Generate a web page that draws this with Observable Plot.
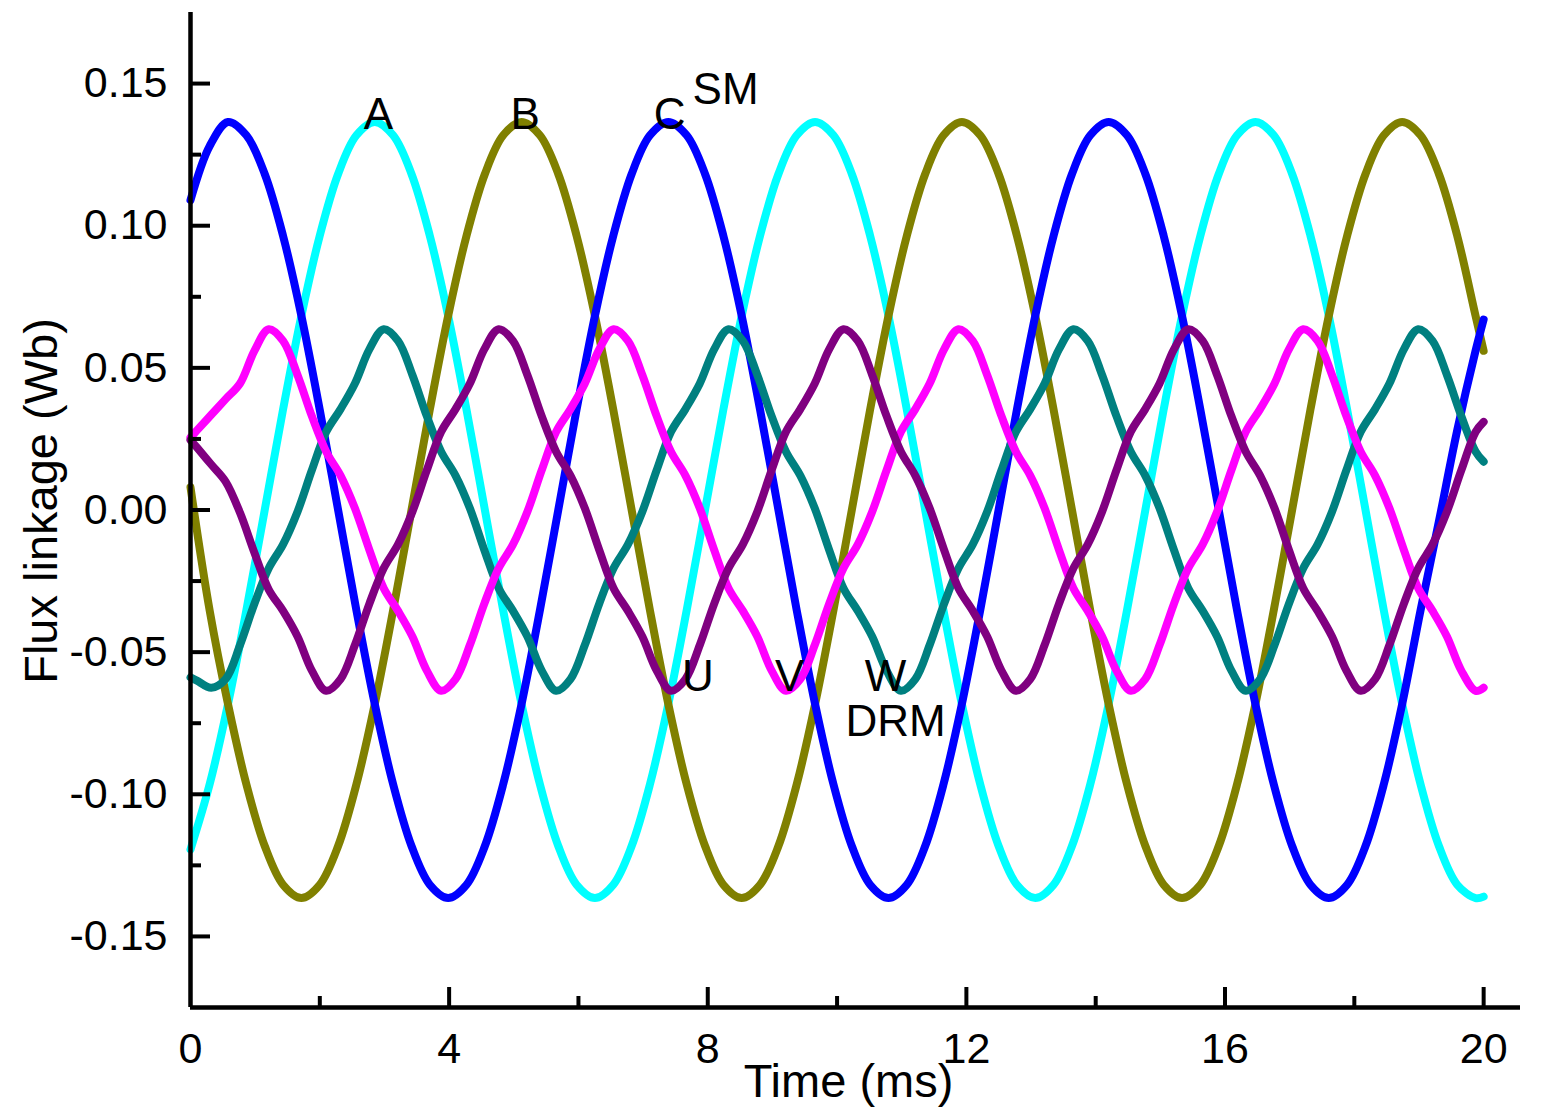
<!DOCTYPE html>
<html>
<head>
<meta charset="utf-8">
<script src="https://cdn.jsdelivr.net/npm/d3@7"></script>
<script src="https://cdn.jsdelivr.net/npm/@observablehq/plot@0.6"></script>
<style>
  html, body { margin: 0; padding: 0; background: #fff; }
  #chart svg { display: block; }
</style>
</head>
<body>
<div id="chart"></div>
<script>
// ---- time grids (ms) ----
const smTime = [0, 0.296, 0.580, 0.864, 1.148, 1.431, 1.715, 1.999, 2.283, 2.566, 2.850,
  3.134, 3.418, 3.701, 3.985, 4.269, 4.553, 4.836, 5.120, 5.404, 5.688,
  5.971, 6.255, 6.539, 6.823, 7.106, 7.390, 7.674, 7.958, 8.241, 8.525,
  8.809, 9.093, 9.376, 9.660, 9.944, 10.228, 10.511, 10.795, 11.079, 11.363,
  11.646, 11.930, 12.214, 12.498, 12.781, 13.065, 13.349, 13.633, 13.916, 14.200,
  14.484, 14.768, 15.051, 15.335, 15.619, 15.903, 16.186, 16.470, 16.754, 17.038,
  17.321, 17.605, 17.889, 18.173, 18.456, 18.740, 19.024, 19.308, 19.591, 19.875, 20];

const drmTime = [0, 0.099, 0.321, 0.543, 0.766, 0.988, 1.210, 1.432, 1.655, 1.877, 2.099,
  2.321, 2.543, 2.766, 2.988, 3.210, 3.432, 3.655, 3.877, 4.099,
  4.321, 4.543, 4.766, 4.988, 5.210, 5.432, 5.655, 5.877, 6.099,
  6.321, 6.543, 6.766, 6.988, 7.210, 7.432, 7.655, 7.877, 8.099,
  8.321, 8.543, 8.766, 8.988, 9.210, 9.432, 9.655, 9.877, 10.099,
  10.321, 10.543, 10.766, 10.988, 11.210, 11.432, 11.655, 11.877, 12.099,
  12.321, 12.543, 12.766, 12.988, 13.210, 13.432, 13.655, 13.877, 14.099,
  14.321, 14.543, 14.766, 14.988, 15.210, 15.432, 15.655, 15.877, 16.099,
  16.321, 16.543, 16.766, 16.988, 17.210, 17.432, 17.655, 17.877, 18.099,
  18.321, 18.543, 18.766, 18.988, 19.210, 19.432, 19.655, 19.877, 20];

// ---- SM flux linkage (Wb) ----
const fluxA = [-0.1194,
  -0.0965, -0.0683, -0.0353, 0, 0.0353, 0.0683, 0.0965, 0.1182, 0.1318,
  0.1365, 0.1318, 0.1182, 0.0965, 0.0683, 0.0353, 0, -0.0353, -0.0683, -0.0965, -0.1182, -0.1318,
  -0.1365, -0.1318, -0.1182, -0.0965, -0.0683, -0.0353, 0, 0.0353, 0.0683, 0.0965, 0.1182, 0.1318,
  0.1365, 0.1318, 0.1182, 0.0965, 0.0683, 0.0353, 0, -0.0353, -0.0683, -0.0965, -0.1182, -0.1318,
  -0.1365, -0.1318, -0.1182, -0.0965, -0.0683, -0.0353, 0, 0.0353, 0.0683, 0.0965, 0.1182, 0.1318,
  0.1365, 0.1318, 0.1182, 0.0965, 0.0683, 0.0353, 0, -0.0353, -0.0683, -0.0965, -0.1182, -0.1318,
  -0.1365, -0.1360];

const fluxB = [0.008,
  -0.0353, -0.0683, -0.0965, -0.1182, -0.1318, -0.1365, -0.1318, -0.1182, -0.0965,
  -0.0683, -0.0353, 0, 0.0353, 0.0683, 0.0965, 0.1182, 0.1318,
  0.1365, 0.1318, 0.1182, 0.0965, 0.0683, 0.0353, 0, -0.0353, -0.0683, -0.0965, -0.1182, -0.1318,
  -0.1365, -0.1318, -0.1182, -0.0965, -0.0683, -0.0353, 0, 0.0353, 0.0683, 0.0965, 0.1182, 0.1318,
  0.1365, 0.1318, 0.1182, 0.0965, 0.0683, 0.0353, 0, -0.0353, -0.0683, -0.0965, -0.1182, -0.1318,
  -0.1365, -0.1318, -0.1182, -0.0965, -0.0683, -0.0353, 0, 0.0353, 0.0683, 0.0965, 0.1182, 0.1318,
  0.1365, 0.1318, 0.1182, 0.0965, 0.0683,
  0.056];

const fluxC = [0.109, 0.128,
  0.1365, 0.1318, 0.1182, 0.0965, 0.0683, 0.0353, 0, -0.0353, -0.0683, -0.0965, -0.1182, -0.1318,
  -0.1365, -0.1318, -0.1182, -0.0965, -0.0683, -0.0353, 0, 0.0353, 0.0683, 0.0965, 0.1182, 0.1318,
  0.1365, 0.1318, 0.1182, 0.0965, 0.0683, 0.0353, 0, -0.0353, -0.0683, -0.0965, -0.1182, -0.1318,
  -0.1365, -0.1318, -0.1182, -0.0965, -0.0683, -0.0353, 0, 0.0353, 0.0683, 0.0965, 0.1182, 0.1318,
  0.1365, 0.1318, 0.1182, 0.0965, 0.0683, 0.0353, 0, -0.0353, -0.0683, -0.0965, -0.1182, -0.1318,
  -0.1365, -0.1318, -0.1182, -0.0965,
  -0.0683, -0.0353, -0.004, 0.028, 0.056,
  0.067];

// ---- DRM flux linkage (Wb) ----
const fluxU = [0.0246,
  0.022, 0.016, 0.010, -0.001, -0.015, -0.028, -0.0355, -0.0445, -0.0565, -0.0636,
  -0.0595, -0.0475, -0.0330, -0.0205, -0.0121, -0.0006, 0.0140, 0.0275, 0.0355, 0.0445, 0.0565,
  0.0636, 0.0595, 0.0475, 0.0330, 0.0205, 0.0121, 0.0006, -0.0140, -0.0275, -0.0355, -0.0445, -0.0565,
  -0.0636, -0.0595, -0.0475, -0.0330, -0.0205, -0.0121, -0.0006, 0.0140, 0.0275, 0.0355, 0.0445, 0.0565,
  0.0636, 0.0595, 0.0475, 0.0330, 0.0205, 0.0121, 0.0006, -0.0140, -0.0275, -0.0355, -0.0445, -0.0565,
  -0.0636, -0.0595, -0.0475, -0.0330, -0.0205, -0.0121, -0.0006, 0.0140, 0.0275, 0.0355, 0.0445, 0.0565,
  0.0636, 0.0595, 0.0475, 0.0330, 0.0205, 0.0121, 0.0006, -0.0140, -0.0275, -0.0355, -0.0445, -0.0565,
  -0.0636, -0.0595, -0.0475, -0.0330, -0.0205, -0.0121, -0.0006, 0.0140, 0.0275,
  0.031];

const fluxV = [0.0255,
  0.028, 0.0335, 0.039, 0.0445, 0.0560,
  0.0636, 0.0595, 0.0475, 0.0330, 0.0205, 0.0121, 0.0006, -0.0140, -0.0275, -0.0355, -0.0445, -0.0565,
  -0.0636, -0.0595, -0.0475, -0.0330, -0.0205, -0.0121, -0.0006, 0.0140, 0.0275, 0.0355, 0.0445, 0.0565,
  0.0636, 0.0595, 0.0475, 0.0330, 0.0205, 0.0121, 0.0006, -0.0140, -0.0275, -0.0355, -0.0445, -0.0565,
  -0.0636, -0.0595, -0.0475, -0.0330, -0.0205, -0.0121, -0.0006, 0.0140, 0.0275, 0.0355, 0.0445, 0.0565,
  0.0636, 0.0595, 0.0475, 0.0330, 0.0205, 0.0121, 0.0006, -0.0140, -0.0275, -0.0355, -0.0445, -0.0565,
  -0.0636, -0.0595, -0.0475, -0.0330, -0.0205, -0.0121, -0.0006, 0.0140, 0.0275, 0.0355, 0.0445, 0.0565,
  0.0636, 0.0595, 0.0475, 0.0330, 0.0205, 0.0121, 0.0006, -0.0140, -0.0275, -0.0355, -0.0445, -0.0565,
  -0.0636,
  -0.0625];

const fluxW = [-0.0589,
  -0.0600, -0.0625, -0.0595, -0.0475, -0.0330, -0.0205, -0.0121, -0.0006, 0.0140, 0.0275, 0.0355, 0.0445, 0.0565,
  0.0636, 0.0595, 0.0475, 0.0330, 0.0205, 0.0121, 0.0006, -0.0140, -0.0275, -0.0355, -0.0445, -0.0565,
  -0.0636, -0.0595, -0.0475, -0.0330, -0.0205, -0.0121, -0.0006, 0.0140, 0.0275, 0.0355, 0.0445, 0.0565,
  0.0636, 0.0595, 0.0475, 0.0330, 0.0205, 0.0121, 0.0006, -0.0140, -0.0275, -0.0355, -0.0445, -0.0565,
  -0.0636, -0.0595, -0.0475, -0.0330, -0.0205, -0.0121, -0.0006, 0.0140, 0.0275, 0.0355, 0.0445, 0.0565,
  0.0636, 0.0595, 0.0475, 0.0330, 0.0205, 0.0121, 0.0006, -0.0140, -0.0275, -0.0355, -0.0445, -0.0565,
  -0.0636, -0.0595, -0.0475, -0.0330, -0.0205, -0.0121, -0.0006, 0.0140, 0.0275, 0.0355, 0.0445, 0.0565,
  0.0636, 0.0595, 0.0475, 0.0330, 0.0205,
  0.017];

// ---- series names & colours ----
const seriesNames = ["A", "B", "C", "W", "V", "U"];
const seriesColors = ["#00FFFF", "#808000", "#0000FF", "#008080", "#FF00FF", "#800080"];

// ---- axis ticks ----
const xMajorTicks = [0, 4, 8, 12, 16, 20];
const xMinorTicks = [2, 6, 10, 14, 18];
const yMajorTicks = [-0.15, -0.10, -0.05, 0, 0.05, 0.10, 0.15];
const yMinorTicks = [-0.125, -0.075, -0.025, 0.025, 0.075, 0.125];

// ---- annotations ----
const labelNames = ["A", "B", "C", "SM", "U", "V", "W", "DRM"];
const labelTime = [2.908, 5.175, 7.409, 8.275, 7.849, 9.265, 10.749, 10.904];
const labelFlux = [0.1391, 0.1391, 0.1391, 0.1476, -0.0586, -0.0586, -0.0586, -0.0744];

const toRows = (times, values, name) => times.map((t, i) => ({time: t, flux: values[i], series: name}));
const seriesData = {
  A: toRows(smTime, fluxA, "A"),
  B: toRows(smTime, fluxB, "B"),
  C: toRows(smTime, fluxC, "C"),
  U: toRows(drmTime, fluxU, "U"),
  V: toRows(drmTime, fluxV, "V"),
  W: toRows(drmTime, fluxW, "W")
};

const W = 1561, H = 1114;
const mL = 190, mR = 41, mT = 12, mB = 107;
const frameW = W - mL - mR, frameH = H - mT - mB;
const font = "'Liberation Sans', Arial, Helvetica, sans-serif";

const lineMarks = seriesNames.map((s, i) =>
  Plot.line(seriesData[s], {
    x: "time", y: "flux", stroke: seriesColors[i],
    strokeWidth: 8, curve: "catmull-rom", strokeLinecap: "round", strokeLinejoin: "round"
  })
);

const chart = Plot.plot({
  width: W, height: H,
  marginLeft: mL, marginRight: mR, marginTop: mT, marginBottom: mB,
  style: {fontFamily: font, fontSize: "43px", color: "#000", background: "#fff"},
  x: {domain: [0, 20.57]},
  y: {domain: [-0.175, 0.175]},
  marks: [
    ...lineMarks,
    Plot.axisX({ticks: xMajorTicks, tickSize: 0, tickPadding: 25, label: null, fontSize: 43, tickFormat: d => String(d)}),
    Plot.axisY({ticks: yMajorTicks, tickSize: 0, tickPadding: 23, label: null, fontSize: 43, tickFormat: d => d.toFixed(2)}),
    Plot.ruleX([0], {stroke: "#000", strokeWidth: 4.5}),
    Plot.ruleY([-0.175], {stroke: "#000", strokeWidth: 4.5}),
    Plot.tickX(xMajorTicks.slice(1), {x: d => d, stroke: "#000", strokeWidth: 4, insetTop: frameH - 20}),
    Plot.tickX(xMinorTicks, {x: d => d, stroke: "#000", strokeWidth: 4, insetTop: frameH - 11}),
    Plot.tickY(yMajorTicks, {y: d => d, stroke: "#000", strokeWidth: 4, insetRight: frameW - 20}),
    Plot.tickY(yMinorTicks, {y: d => d, stroke: "#000", strokeWidth: 4, insetRight: frameW - 11}),
    Plot.text(labelNames, {x: (d, i) => labelTime[i], y: (d, i) => labelFlux[i], text: d => d, fontSize: 44, fill: "#000"}),
    Plot.text(["Time (ms)"], {frameAnchor: "bottom", text: d => d, dy: 56, dx: -7, lineAnchor: "top", fontSize: 47, fill: "#000"}),
    Plot.text(["Flux linkage (Wb)"], {frameAnchor: "left", text: d => d, rotate: -90, dx: -167, dy: -9, textAnchor: "middle", lineAnchor: "top", fontSize: 47, fill: "#000"})
  ]
});

document.getElementById("chart").appendChild(chart);
</script>
</body>
</html>
